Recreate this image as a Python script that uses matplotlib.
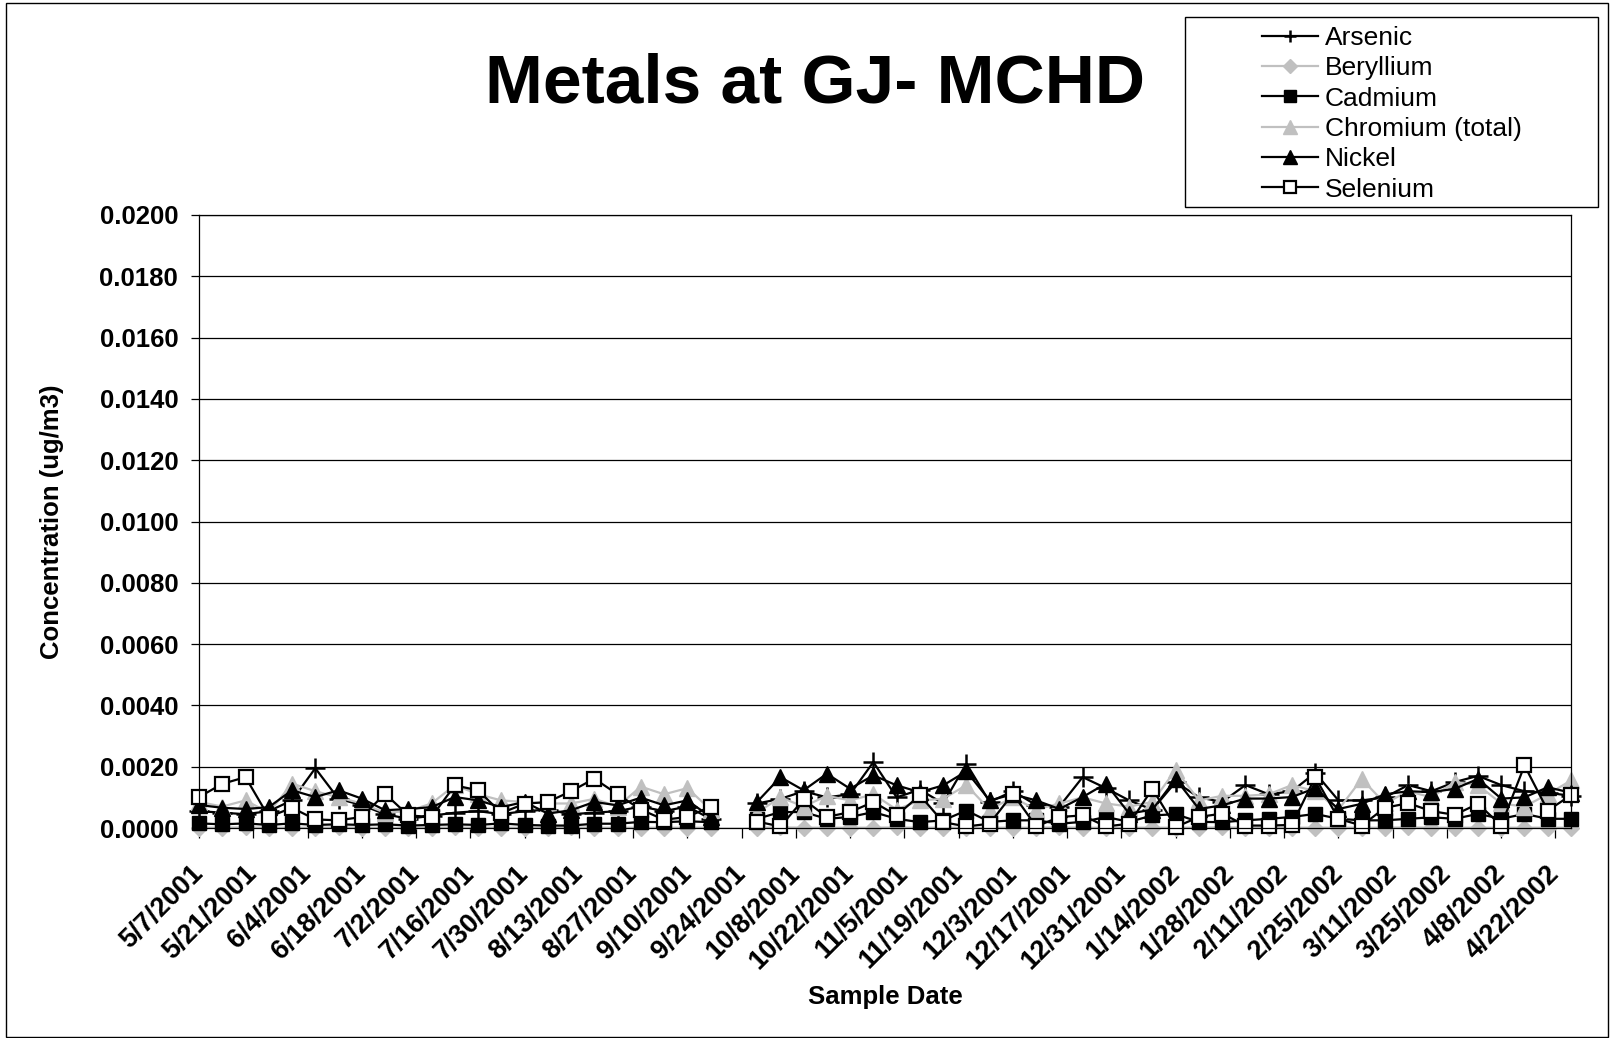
import matplotlib

matplotlib.use("Agg")
import matplotlib.pyplot as plt
import numpy as np
import pandas as pd
from matplotlib.lines import Line2D
from matplotlib.patches import Rectangle

plt.rcParams["font.family"] = ["Liberation Sans", "DejaVu Sans"]

nan = np.nan

# one sample every sixth day, 5/7/2001 .. 4/26/2002
sample_dates = pd.date_range("2001-05-07", periods=60, freq="6D")
tick_dates = pd.date_range("2001-05-07", "2002-04-22", freq="14D")

# concentrations in thousandths of ug/m3
arsenic = [
    0.55, 0.50, 0.45, 0.55, 0.90, 1.95, 0.95, 0.75, 0.45, 0.30,
    0.40, 0.50, 0.55, 0.45, 0.55, 0.60, 0.45, 0.50, 0.55, 0.70,
    0.55, 0.70, 0.30, nan, 0.80, 0.95, 1.20, 1.00, 1.10, 2.15,
    1.00, 1.25, 0.80, 2.10, 0.85, 1.20, 0.75, 0.70, 1.66, 1.30,
    0.90, 0.60, 1.50, 1.00, 0.85, 1.40, 1.10, 1.20, 1.80, 0.90,
    0.90, 1.00, 1.40, 1.20, 1.50, 1.70, 1.40, 1.20, 1.15, 1.05,
]
beryllium = [
    0.01, 0.01, 0.02, 0.01, 0.01, 0.01, 0.02, 0.01, 0.01, 0.01,
    0.01, 0.02, 0.01, 0.01, 0.01, 0.01, 0.02, 0.01, 0.01, 0.01,
    0.01, 0.01, 0.01, nan, 0.01, 0.02, 0.01, 0.01, 0.01, 0.01,
    0.02, 0.01, 0.01, 0.01, 0.01, 0.01, 0.01, 0.02, 0.01, 0.01,
    0.01, 0.01, 0.01, 0.01, 0.02, 0.01, 0.01, 0.01, 0.01, 0.01,
    0.01, 0.01, 0.02, 0.01, 0.01, 0.01, 0.01, 0.01, 0.01, 0.01,
]
cadmium = [
    0.15, 0.12, 0.15, 0.10, 0.15, 0.10, 0.12, 0.10, 0.12, 0.08,
    0.10, 0.12, 0.10, 0.15, 0.10, 0.08, 0.08, 0.14, 0.14, 0.20,
    0.19, 0.22, 0.19, nan, 0.30, 0.52, 0.52, 0.30, 0.36, 0.52,
    0.30, 0.19, 0.25, 0.57, 0.20, 0.25, 0.25, 0.14, 0.20, 0.36,
    0.20, 0.41, 0.45, 0.20, 0.19, 0.25, 0.30, 0.36, 0.46, 0.30,
    0.25, 0.25, 0.30, 0.35, 0.30, 0.46, 0.30, 0.46, 0.30, 0.30,
]
chromium = [
    0.85, 0.70, 0.90, 0.50, 1.45, 1.20, 1.00, 0.80, 0.50, 0.55,
    0.80, 1.40, 1.10, 0.90, 0.85, 0.80, 0.80, 0.95, 0.70, 1.35,
    1.10, 1.30, 0.60, nan, 0.50, 1.00, 0.70, 1.05, 0.90, 1.10,
    0.60, 0.90, 0.95, 1.40, 0.60, 1.00, 0.60, 0.80, 1.00, 0.80,
    0.70, 0.85, 1.90, 0.90, 1.05, 1.05, 1.10, 1.40, 1.20, 0.60,
    1.60, 0.80, 1.20, 1.00, 1.50, 1.40, 0.80, 0.70, 1.10, 1.55,
]
nickel = [
    0.75, 0.66, 0.62, 0.68, 1.23, 1.01, 1.23, 0.96, 0.58, 0.62,
    0.68, 1.01, 0.90, 0.68, 0.85, 0.47, 0.58, 0.85, 0.74, 0.99,
    0.74, 0.90, 0.36, nan, 0.85, 1.66, 1.23, 1.77, 1.28, 1.72,
    1.39, 1.17, 1.39, 1.85, 0.90, 1.10, 0.90, 0.62, 1.01, 1.45,
    0.47, 0.60, 1.60, 0.62, 0.74, 0.96, 0.96, 1.01, 1.30, 0.62,
    0.79, 1.10, 1.20, 1.17, 1.28, 1.60, 0.96, 1.00, 1.33, 1.15,
]
selenium = [
    1.01, 1.44, 1.66, 0.36, 0.66, 0.28, 0.25, 0.36, 1.12, 0.41,
    0.36, 1.39, 1.23, 0.49, 0.79, 0.85, 1.20, 1.61, 1.10, 0.60,
    0.27, 0.36, 0.70, nan, 0.21, 0.05, 0.93, 0.36, 0.52, 0.85,
    0.41, 1.07, 0.19, 0.05, 0.14, 1.12, 0.05, 0.36, 0.41, 0.05,
    0.14, 1.28, 0.03, 0.36, 0.47, 0.08, 0.08, 0.10, 1.66, 0.30,
    0.08, 0.66, 0.81, 0.55, 0.43, 0.79, 0.08, 2.04, 0.57, 1.07,
]

GRAY = "#C0C0C0"
series = [
    ("Arsenic", arsenic, dict(color="black", marker="+", ms=14, mew=1.8)),
    ("Beryllium", beryllium, dict(color=GRAY, marker="D", ms=8, mfc=GRAY, mec=GRAY)),
    ("Cadmium", cadmium, dict(color="black", marker="s", ms=10, mfc="black", mec="black")),
    ("Chromium (total)", chromium, dict(color=GRAY, marker="^", ms=11, mfc=GRAY, mec=GRAY)),
    ("Nickel", nickel, dict(color="black", marker="^", ms=11, mfc="black", mec="black")),
    ("Selenium", selenium, dict(color="black", marker="s", ms=10, mfc="white", mec="black", mew=1.6)),
]

fig = plt.figure(figsize=(16.1, 10.38), dpi=100)
ax = fig.add_axes([199 / 1610, 1 - 828 / 1038, 1372 / 1610, 613 / 1038])

for name, values, style in series:
    ax.plot(sample_dates, np.array(values) * 1e-3, lw=1.6, clip_on=False, label=name, **style)

ax.set_xlim(sample_dates[0], sample_dates[-1])
ax.set_ylim(0, 0.02)
ax.set_yticks(np.arange(0, 0.0201, 0.002))
ax.set_yticklabels([f"{v:.4f}" for v in np.arange(0, 0.0201, 0.002)])
ax.set_xticks(tick_dates)
ax.set_xticklabels([f"{d.month}/{d.day}/{d.year}" for d in tick_dates],
                   rotation=45, ha="right", va="center", rotation_mode="anchor")
ax.grid(axis="y", color="black", lw=0.9)
ax.set_axisbelow(True)
for spine in ax.spines.values():
    spine.set_linewidth(0.9)
ax.tick_params(axis="y", direction="out", length=6, width=0.9, pad=9, labelsize=18.5)
ax.tick_params(axis="x", direction="out", length=7, width=0.9, pad=23, labelsize=19.5)
for lab in ax.get_xticklabels() + ax.get_yticklabels():
    lab.set_fontweight("bold")

ax.set_ylabel("Concentration (ug/m3)", fontsize=18.5, fontweight="bold", va="center")
ax.yaxis.set_label_coords(-0.107, 0.5)
ax.set_xlabel("Sample Date", fontsize=18.5, fontweight="bold", va="center")
ax.xaxis.set_label_coords(0.5, -0.276)

fig.text(0.506, 0.919, "Metals at GJ- MCHD", ha="center", va="center",
         fontsize=50, fontweight="bold")

# legend box drawn as in the spreadsheet chart
fig.patches.append(Rectangle((1185 / 1610, 1 - 207 / 1038), 413 / 1610, 190 / 1038,
                             transform=fig.transFigure, fill=False, ec="black", lw=1))
handles = []
for name, values, style in series:
    st = dict(style)
    st["ms"] = st["ms"] * (0.65 if st["marker"] == "+" else 0.9)
    handles.append(Line2D([], [], lw=1.6, label=name, **st))
fig.legend(handles=handles, loc="upper left", bbox_to_anchor=(1262 / 1610, 1 - 26 / 1038),
           frameon=False, fontsize=19, borderpad=0, borderaxespad=0,
           handlelength=2.12, handletextpad=0.27, labelspacing=0.24)

# chart area border
fig.patches.append(Rectangle((6 / 1610, 1 / 1038), 1602 / 1610, 1034 / 1038,
                             transform=fig.transFigure, fill=False, ec="black", lw=1))

fig.savefig("out.png", dpi=100)
